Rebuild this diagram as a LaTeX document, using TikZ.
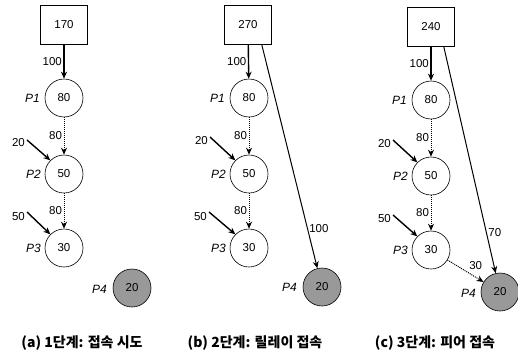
\documentclass[tikz,border=0pt]{standalone}
\usepackage{fontspec}
\setmainfont{Liberation Sans}
\newfontfamily\krfont{Noto Sans CJK KR}
\usepackage{tikz}
\usetikzlibrary{arrows.meta}

\begin{document}
\begin{tikzpicture}[x=1pt,y=-1pt,>=Stealth,font=\fontsize{11.5}{13}\selectfont,
  srcbox/.style={rectangle,draw=black,line width=0.6pt,minimum width=47pt,minimum height=39pt,inner sep=0pt},
  peer/.style={circle,draw=black,line width=0.6pt,minimum size=38pt,inner sep=0pt},
  busy/.style={peer,fill=black!40},
  pname/.style={font=\fontsize{12}{13}\selectfont\itshape,anchor=east,inner sep=0pt},
  elabel/.style={inner sep=1.5pt},
  feed/.style={->,line width=1.4pt,-{Stealth[length=7pt,width=6pt]}},
  relay/.style={->,line width=1pt,dash pattern=on 1pt off 1pt,-{Stealth[length=7pt,width=6pt]}},
  direct/.style={->,line width=1pt,-{Stealth[length=7pt,width=6pt]}},
  caption/.style={font=\fontsize{14}{16}\selectfont\krfont\bfseries}]
\useasboundingbox (0,0) rectangle (518,356);
\node[srcbox] (a0) at (64,25) {170};
\node[peer] (a1) at (64,98) {80};
\node[peer] (a2) at (64,174) {50};
\node[peer] (a3) at (64,248) {30};
\node[busy] (a4) at (132,288) {20};
\node[pname] at (40,98) {P1};
\node[pname] at (41,174) {P2};
\node[pname] at (41,248) {P3};
\node[pname] at (107,289) {P4};
\coordinate (a20) at (27,140);
\coordinate (a50) at (27,212);
\draw[feed] (a0) -- node[elabel,left] {100} (a1);
\draw[relay] (a1) -- node[elabel,left] {80} (a2);
\draw[relay] (a2) -- node[elabel,left] {80} (a3);
\draw[feed] (a20) node[elabel,left,yshift=-3pt] {20} -- (a2.135);
\draw[feed] (a50) node[elabel,left,yshift=-5pt] {50} -- (a3.135);
\node[caption] (acap) at (82,343) {(a) 1단계: 접속 시도};

\node[srcbox] (b0) at (248,25) {270};
\node[peer] (b1) at (249,98) {80};
\node[peer] (b2) at (249,174) {50};
\node[peer] (b3) at (249,248) {30};
\node[busy] (b4) at (322,287) {20};
\node[pname] at (225,98) {P1};
\node[pname] at (226,174) {P2};
\node[pname] at (226,248) {P3};
\node[pname] at (297,287) {P4};
\coordinate (b20) at (210,137);
\coordinate (b50) at (209,212);
\draw[feed] (b0) -- node[elabel,left] {100} (b1);
\draw[relay] (b1) -- node[elabel,left] {80} (b2);
\draw[relay] (b2) -- node[elabel,left] {80} (b3);
\draw[feed] (b20) node[elabel,left,yshift=-4pt] {20} -- (b2.135);
\draw[feed] (b50) node[elabel,left,yshift=-5pt] {50} -- (b3.135);
\draw[direct] ([xshift=-10pt]b0.south east) -- node[elabel,pos=0.82,right] {100} (b4);
\node[caption] (bcap) at (255,343) {(b) 2단계: 릴레이 접속};

\node[srcbox] (c0) at (431,27) {240};
\node[peer] (c1) at (431,100) {80};
\node[peer] (c2) at (431,176) {50};
\node[peer] (c3) at (431,250) {30};
\node[busy] (c4) at (500,292) {20};
\node[pname] at (407,100) {P1};
\node[pname] at (408,176) {P2};
\node[pname] at (408,250) {P3};
\node[pname] at (476,293) {P4};
\coordinate (c20) at (393,140);
\coordinate (c50) at (393,215);
\draw[feed] (c0) -- node[elabel,left] {100} (c1);
\draw[relay] (c1) -- node[elabel,left] {80} (c2);
\draw[relay] (c2) -- node[elabel,left] {80} (c3);
\draw[feed] (c20) node[elabel,left,yshift=-4pt] {20} -- (c2.135);
\draw[feed] (c50) node[elabel,left,yshift=-4pt] {50} -- (c3.135);
\draw[direct] ([xshift=-11pt]c0.south east) -- node[elabel,pos=0.82,right] {70} (c4);
\draw[relay] (c3) -- node[elabel,above right,pos=0.55] {30} (c4);
\node[caption] (ccap) at (435,343) {(c) 3단계: 피어 접속};
\end{tikzpicture}
\end{document}
